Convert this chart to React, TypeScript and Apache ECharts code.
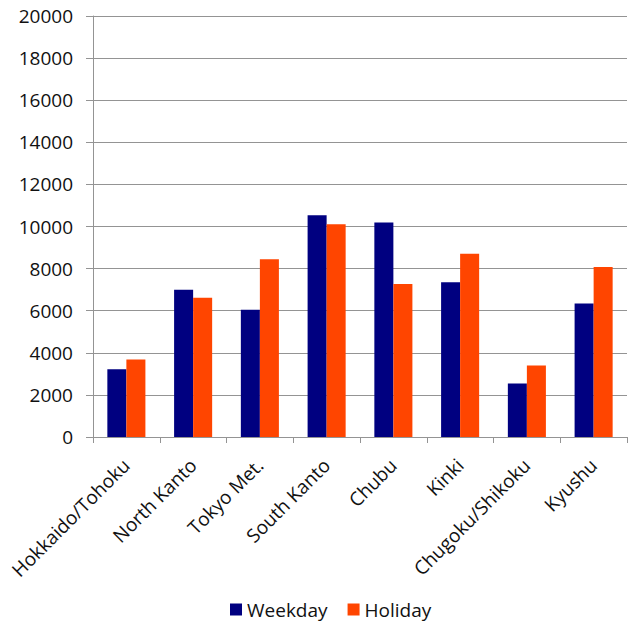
import React, { useEffect, useRef } from "react";
import * as echarts from "echarts";

const regions = [
  "Hokkaido/Tohoku",
  "North Kanto",
  "Tokyo Met.",
  "South Kanto",
  "Chubu",
  "Kinki",
  "Chugoku/Shikoku",
  "Kyushu",
];
const weekday = [3220, 7000, 6040, 10540, 10190, 7350, 2540, 6340];
const holiday = [3680, 6610, 8450, 10110, 7270, 8700, 3400, 8080];

const FONT = "'Open Sans', 'Noto Sans', sans-serif";
const GRID_GREY = "#949494";

export default function App() {
  const ref = useRef<HTMLDivElement>(null);

  useEffect(() => {
    if (!ref.current) return;
    const chart = echarts.init(ref.current, undefined, { renderer: "svg" });
    chart.setOption({
      animation: false,
      backgroundColor: "#ffffff",
      textStyle: { fontFamily: FONT },
      grid: { left: 93, right: 9, top: 16, bottom: 189, containLabel: false },
      legend: {
        bottom: 2,
        left: 225,
        itemWidth: 12,
        itemHeight: 12,
        itemGap: 20,
        icon: "rect",
        textStyle: { fontFamily: FONT, fontSize: 19, color: "#111" },
        data: ["Weekday", "Holiday"],
      },
      xAxis: {
        type: "category",
        data: regions,
        axisLine: { show: true, lineStyle: { color: GRID_GREY, width: 1 } },
        axisTick: { show: true, length: 6, alignWithLabel: false, lineStyle: { color: GRID_GREY } },
        axisLabel: {
          interval: 0,
          rotate: 45,
          margin: 25,
          fontFamily: FONT,
          fontSize: 19,
          color: "#111",
        },
      },
      yAxis: {
        type: "value",
        min: 0,
        max: 20000,
        interval: 2000,
        axisLine: { show: true, lineStyle: { color: GRID_GREY, width: 1 } },
        axisTick: { show: true, length: 7, lineStyle: { color: GRID_GREY } },
        splitLine: { show: true, lineStyle: { color: GRID_GREY, width: 1 } },
        axisLabel: {
          margin: 20,
          fontFamily: FONT,
          fontSize: 19,
          color: "#111",
          formatter: (v: number) => String(v),
        },
      },
      series: [
        {
          name: "Weekday",
          type: "bar",
          data: weekday,
          barGap: "0%",
          barCategoryGap: "43%",
          itemStyle: { color: "#000080" },
        },
        {
          name: "Holiday",
          type: "bar",
          data: holiday,
          barGap: "0%",
          barCategoryGap: "43%",
          itemStyle: { color: "#ff4500" },
        },
      ],
    });
    return () => chart.dispose();
  }, []);

  return (
    <div
      ref={ref}
      style={{ position: "absolute", left: 0, top: 0, width: 636, height: 626 }}
    />
  );
}
